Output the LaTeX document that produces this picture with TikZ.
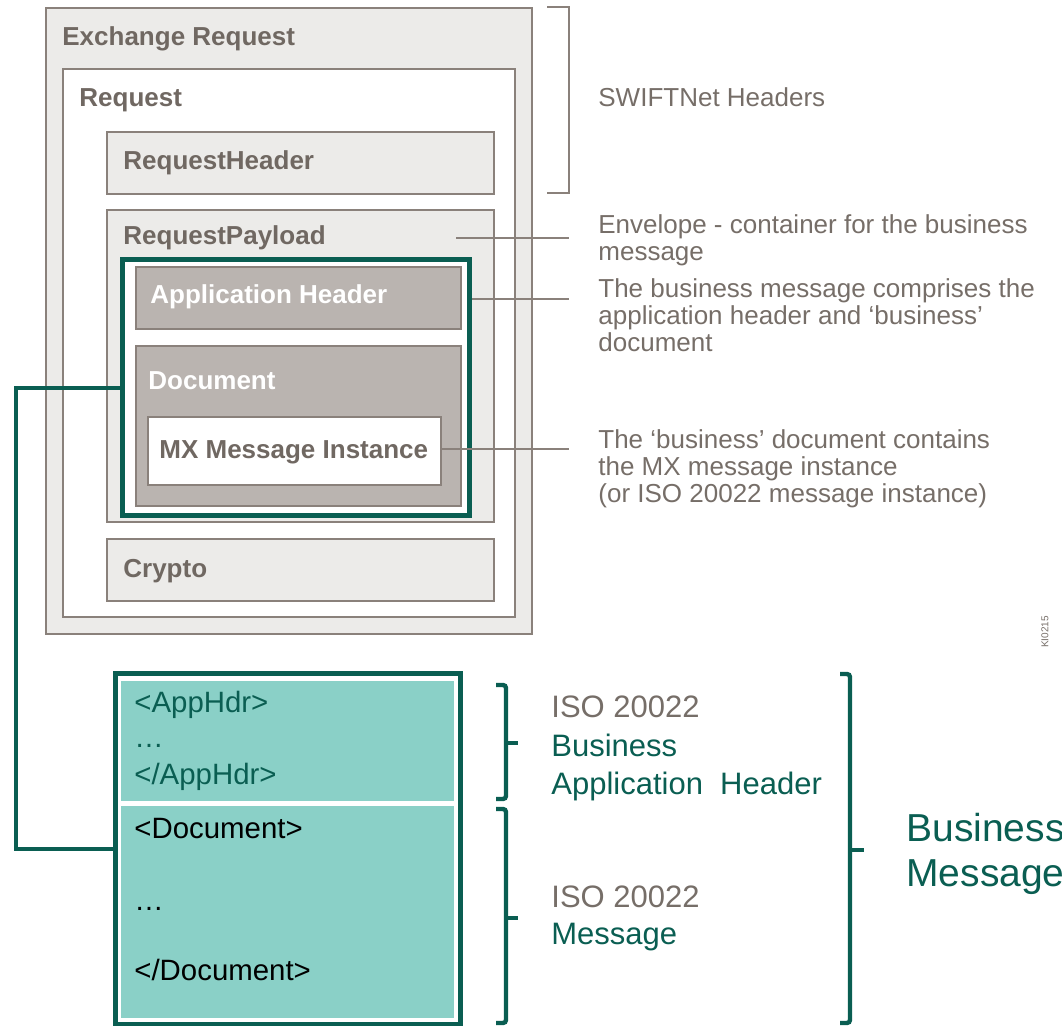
\documentclass[tikz,border=0pt]{standalone}
\usepackage{fontspec}
\setmainfont{Liberation Sans}
\usetikzlibrary{fit}
\definecolor{boxline}{RGB}{138,129,123}
\definecolor{lightfill}{RGB}{236,235,233}
\definecolor{darkfill}{RGB}{186,180,176}
\definecolor{labelgray}{RGB}{112,104,98}
\definecolor{notegray}{RGB}{118,110,104}
\definecolor{swiftgreen}{RGB}{10,94,82}
\definecolor{tealfill}{RGB}{138,208,199}
\begin{document}
\begin{tikzpicture}[x=0.5pt, y=-0.5pt,
  box/.style={draw=boxline, line width=1.1pt, inner sep=0pt},
  greenbox/.style={draw=swiftgreen, line width=2.5pt, inner sep=0pt},
  boxlabel/.style={anchor=base west, inner sep=0pt, text=labelgray, font=\fontsize{13}{15}\selectfont\bfseries},
  note/.style={anchor=north west, inner sep=0pt, align=left, text=notegray, font=\fontsize{13}{13.5}\selectfont},
  xmltext/.style={anchor=base west, inner sep=0pt, font=\fontsize{14.7}{16}\selectfont},
  isotext/.style={anchor=base west, inner sep=0pt, font=\fontsize{15.5}{18}\selectfont},
  leader/.style={draw=boxline, line width=0.9pt},
  link/.style={draw=swiftgreen, line width=1.7pt},
  bracket/.style={draw=swiftgreen, line width=2.2pt, rounded corners=1.5pt}]
\useasboundingbox (0,0) rectangle (1062,1026);
\node[box, fill=lightfill, fit={(46,8) (532,634)}] (exch) {};
\node[box, fill=white, fit={(63,69) (515,617)}] (req) {};
\node[box, fill=lightfill, fit={(107,132) (494,194)}] (reqhdr) {};
\node[box, fill=lightfill, fit={(107,210) (494,522)}] (reqpay) {};
\node[greenbox, fill=white, fit={(122.5,259.5) (469.5,515.5)}] (bizmsg) {};
\node[box, fill=darkfill, fit={(136,267) (461,329)}] (apphdr) {};
\node[box, fill=darkfill, fit={(136,346) (461,506)}] (doc) {};
\node[box, fill=white, fit={(148,417) (441,485)}] (mx) {};
\node[box, fill=lightfill, fit={(107,539) (494,601)}] (crypto) {};
\node[boxlabel] (exchlbl) at (62,46) {Exchange Request};
\node[boxlabel] (reqlbl) at (79,107) {Request};
\node[boxlabel] (reqhdrlbl) at (123,170) {RequestHeader};
\node[boxlabel] (reqpaylbl) at (123,245) {RequestPayload};
\node[boxlabel, text=white] (apphdrlbl) at (150,304) {Application Header};
\node[boxlabel, text=white] (doclbl) at (148,390) {Document};
\node[boxlabel] (mxlbl) at (159,459) {MX Message Instance};
\node[boxlabel] (cryptolbl) at (123,578) {Crypto};
\draw[draw=boxline, line width=1.1pt] (547,7) -- (569,7) -- (569,193) -- (547,193);
\node[note, anchor=base west] (swiftnote) at (598,107) {SWIFTNet Headers};
\node[note] (envnote) at (598,214) {Envelope - container for the business\\message};
\node[note] (bmnote) at (598,278) {The business message comprises the\\application header and ‘business’\\document};
\node[note] (docnote) at (598,429) {The ‘business’ document contains\\the MX message instance\\(or ISO 20022 message instance)};
\coordinate (envtip) at (569,238);
\coordinate (bmtip) at (569,299);
\coordinate (doctip) at (569,449);
\draw[leader] (456,238) -- (envtip);
\draw[leader] (bmtip -| bizmsg.east) -- (bmtip);
\draw[leader] (mx.east |- doctip) -- (doctip);
\node[rotate=90, inner sep=0pt, text=notegray, font=\fontsize{5}{5}\selectfont] (figid) at (1045,632) {KI0215};
\node[greenbox, fill=white, fit={(115.5,673.5) (460.5,1025)}] (xmlbox) {};
\node[inner sep=0pt, fill=tealfill, fit={(121,681) (454,801)}] (hdrpart) {};
\node[inner sep=0pt, fill=tealfill, fit={(121,806) (454,1018)}] (docpart) {};
\node[xmltext, text=swiftgreen] (hdropen) at (134,713) {<AppHdr>};
\node[xmltext, text=swiftgreen] (hdrdots) at (134,748) {…};
\node[xmltext, text=swiftgreen] (hdrclose) at (134,785) {</AppHdr>};
\node[xmltext] (docopen) at (134,839) {<Document>};
\node[xmltext] (docdots) at (134,911) {…};
\node[xmltext] (docclose) at (134,980) {</Document>};
\draw[link] (bizmsg.west |- 0,388) -- (16,388) -- (16,849) -- (xmlbox.west |- 0,849);
\draw[bracket] (496,685) -- (506,685) -- (506,799) -- (496,799);
\draw[bracket] (506,743) -- (518,743);
\draw[bracket] (496,809) -- (506,809) -- (506,1023) -- (496,1023);
\draw[bracket] (506,918) -- (518,918);
\draw[bracket] (840,674) -- (850,674) -- (850,1023) -- (840,1023);
\draw[bracket] (850,850) -- (864,850);
\node[isotext, text=notegray] (bahiso) at (551,718) {ISO 20022};
\node[isotext, text=swiftgreen] (bahbiz) at (551,757) {Business};
\node[isotext, text=swiftgreen] (bahapp) at (551,795) {Application\ \ Header};
\node[isotext, text=notegray] (msgiso) at (551,907) {ISO 20022};
\node[isotext, text=swiftgreen] (msgmsg) at (551,945) {Message};
\node[isotext, text=swiftgreen, font=\fontsize{19.5}{22}\selectfont] (bizlbl) at (906,842) {Business};
\node[isotext, text=swiftgreen, font=\fontsize{19.5}{22}\selectfont] (msglbl) at (906,887) {Message};
\end{tikzpicture}
\end{document}
